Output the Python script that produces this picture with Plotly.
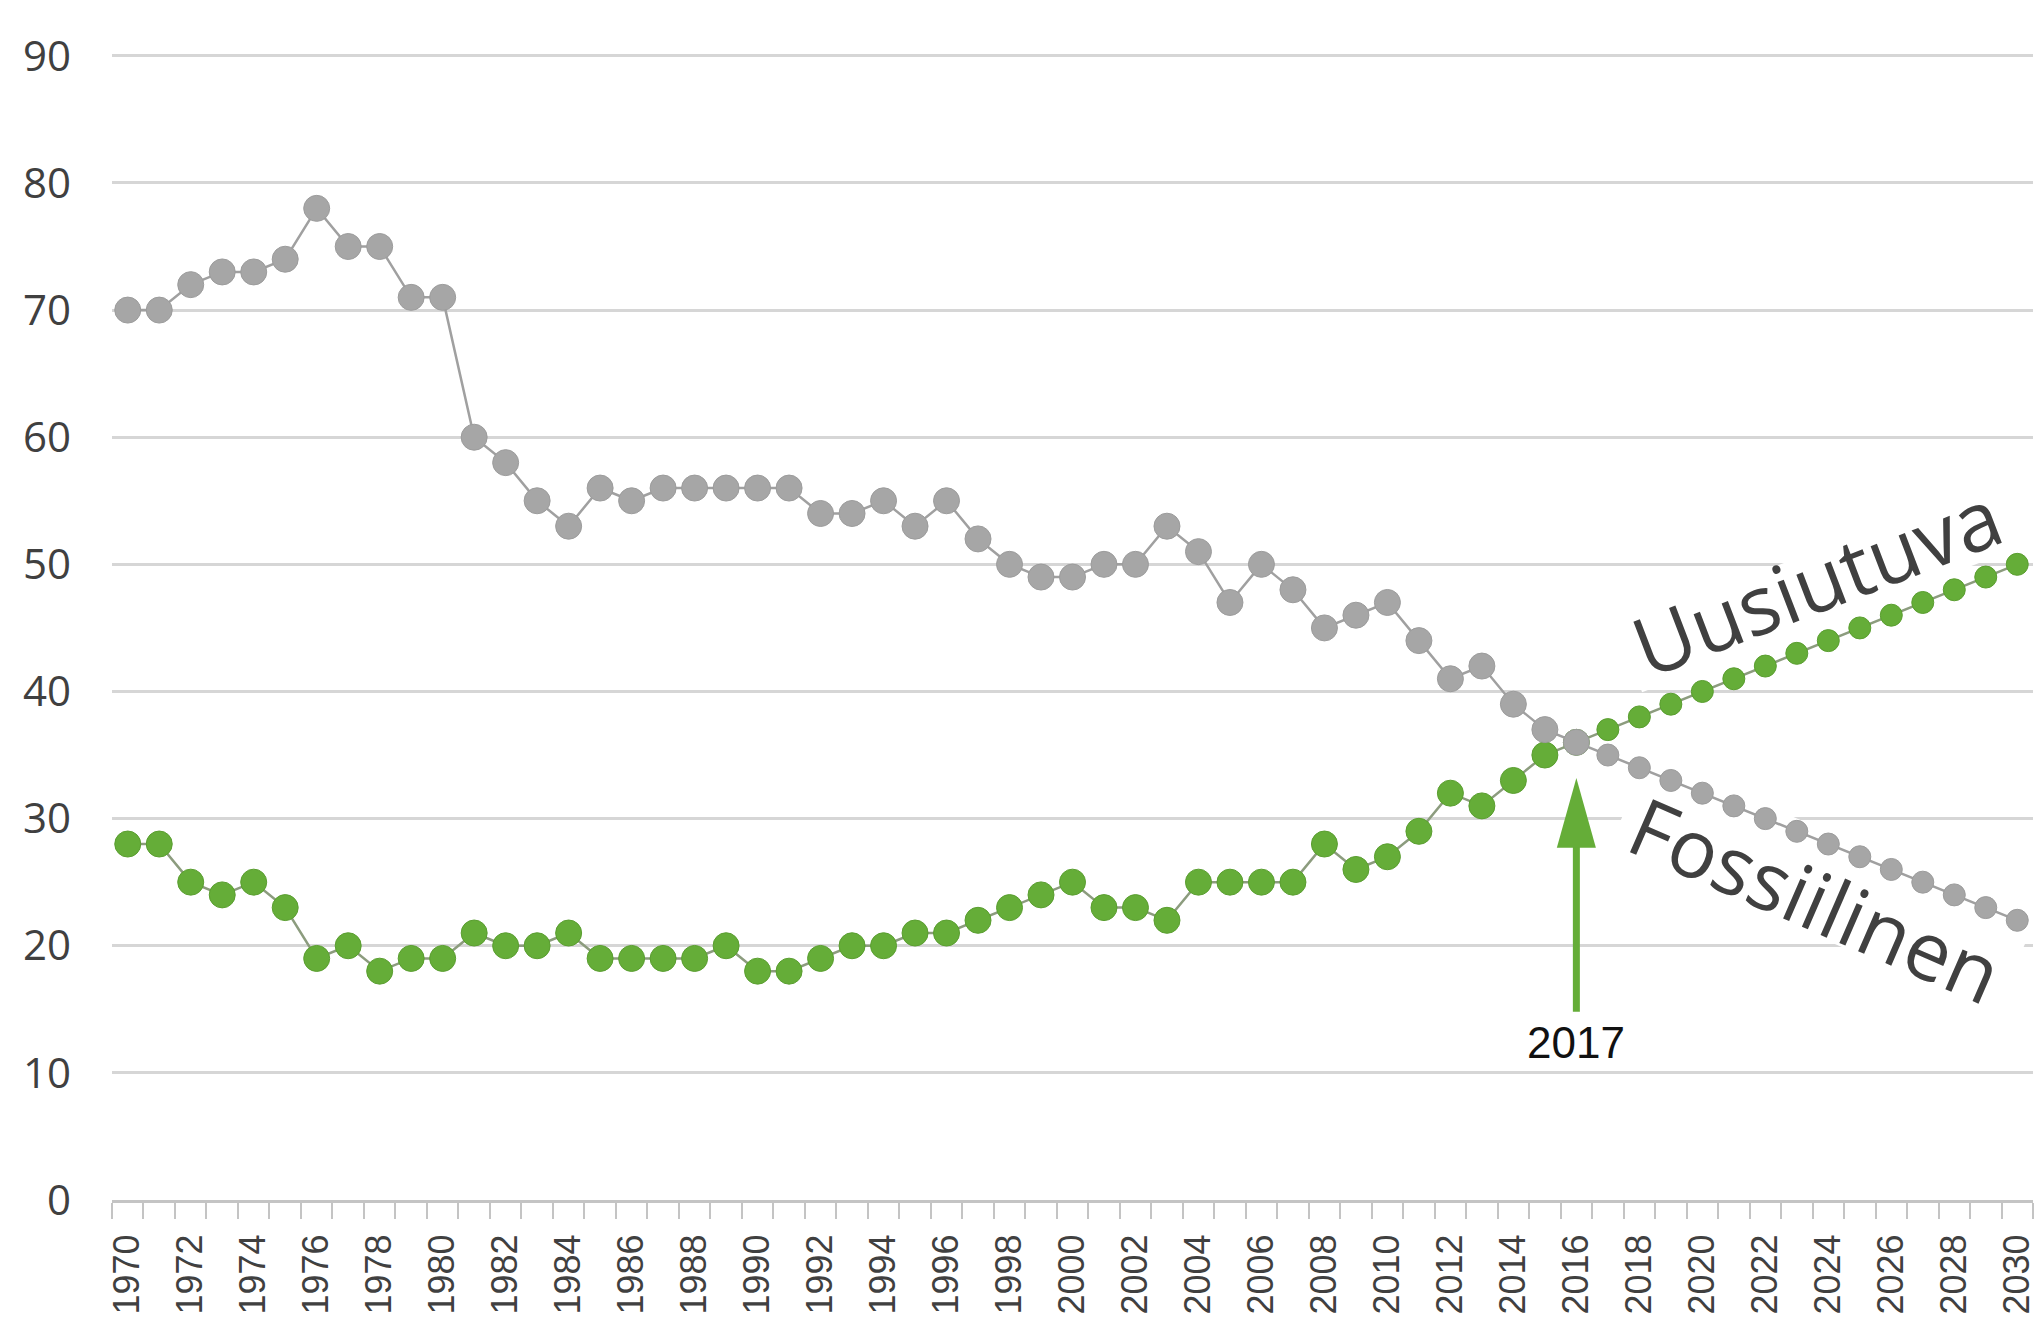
import math
import plotly.graph_objects as go

# ---------------- data ----------------
years = list(range(1970, 2031))
fossiilinen = [70, 70, 72, 73, 73, 74, 78, 75, 75, 71, 71,
               60, 58, 55, 53, 56, 55, 56, 56, 56, 56,
               56, 54, 54, 55, 53, 55, 52, 50, 49, 49,
               50, 50, 53, 51, 47, 50, 48, 45, 46, 47,
               44, 41, 42, 39, 37, 36, 35, 34, 33, 32,
               31, 30, 29, 28, 27, 26, 25, 24, 23, 22]
uusiutuva = [28, 28, 25, 24, 25, 23, 19, 20, 18, 19, 19,
             21, 20, 20, 21, 19, 19, 19, 19, 20, 18,
             18, 19, 20, 20, 21, 21, 22, 23, 24, 25,
             23, 23, 22, 25, 25, 25, 25, 28, 26, 27,
             29, 32, 31, 33, 35, 36, 37, 38, 39, 40,
             41, 42, 43, 44, 45, 46, 47, 48, 49, 50]
x_tick_years = list(range(1970, 2031, 2))
y_ticks = [0, 10, 20, 30, 40, 50, 60, 70, 80, 90]
projection_start = 2017

label_uusi = "Uusiutuva"
label_foss = "Fossiilinen"
arrow_label = "2017"
arrow_year = 2016
arrow_tip = 33.2
arrow_head_base = 27.7
arrow_tail = 14.8
arrow_label_y = 12.4

# ---------------- style ----------------
W, H = 2036, 1322
GREEN = "#65ad38"
GREEN_EDGE = "#5a9e30"
GREY = "#a6a6a6"
GREY_EDGE = "#9c9c9c"
TEXT = "#404040"
GRID = "#d6d6d6"


def sizes(ys):
    return [22 if y >= projection_start else 26 for y in ys]


fig = go.Figure()
fig.add_trace(go.Scatter(
    x=years, y=uusiutuva, mode="lines+markers", name=label_uusi,
    line=dict(color="#8c9c7e", width=2.5),
    marker=dict(color=GREEN, size=sizes(years), opacity=1,
                line=dict(color=GREEN_EDGE, width=1)),
    hoverinfo="x+y", showlegend=False,
))
fig.add_trace(go.Scatter(
    x=years, y=fossiilinen, mode="lines+markers", name=label_foss,
    line=dict(color="#a0a0a0", width=2.5),
    marker=dict(color=GREY, size=sizes(years), opacity=1,
                line=dict(color=GREY_EDGE, width=1)),
    hoverinfo="x+y", showlegend=False,
))


def rotated_box_path(length, height, angle_deg, shift_up):
    a = math.radians(angle_deg)
    ca, sa = math.cos(a), math.sin(a)
    corners = [(-length / 2, -height / 2 + shift_up), (length / 2, -height / 2 + shift_up),
               (length / 2, height / 2 + shift_up), (-length / 2, height / 2 + shift_up)]
    pts = [(u * ca - v * sa, u * sa + v * ca) for u, v in corners]
    return "M " + " L ".join(f"{px:.1f},{py:.1f}" for px, py in pts) + " Z"


# text positions (data coords) and angles
uusi_pos = (2023.6, 48.8, -21)
foss_pos = (2023.6, 23.7, 23.5)

shapes = [
    dict(type="path", xref="x", yref="y", xsizemode="pixel", ysizemode="pixel",
         xanchor=uusi_pos[0], yanchor=uusi_pos[1],
         path=rotated_box_path(405, 70, -uusi_pos[2], -8),
         fillcolor="white", line=dict(width=0), layer="between"),
    dict(type="path", xref="x", yref="y", xsizemode="pixel", ysizemode="pixel",
         xanchor=foss_pos[0], yanchor=foss_pos[1],
         path=rotated_box_path(420, 100, -foss_pos[2], 16),
         fillcolor="white", line=dict(width=0), layer="between"),
    # arrow shaft
    dict(type="line", xref="x", yref="y", x0=arrow_year, x1=arrow_year,
         y0=arrow_tail, y1=arrow_head_base + 0.3, line=dict(color=GREEN, width=7), layer="above"),
    # arrow head
    dict(type="path", xref="x", yref="y",
         path=f"M {arrow_year - 0.62},{arrow_head_base} L {arrow_year},{arrow_tip} "
              f"L {arrow_year + 0.62},{arrow_head_base} Z",
         fillcolor=GREEN, line=dict(width=0), layer="above"),
]

annotations = [
    dict(x=uusi_pos[0], y=uusi_pos[1], xref="x", yref="y", text=label_uusi, showarrow=False,
         textangle=uusi_pos[2], font=dict(family="Open Sans", size=82, color=TEXT),
         xanchor="center", yanchor="middle"),
    dict(x=foss_pos[0], y=foss_pos[1], xref="x", yref="y", text=label_foss, showarrow=False,
         textangle=foss_pos[2], font=dict(family="Open Sans", size=81, color=TEXT),
         xanchor="center", yanchor="middle"),
    dict(x=arrow_year, y=arrow_label_y, xref="x", yref="y", text=arrow_label, showarrow=False,
         font=dict(family="Liberation Sans, Arial", size=44, color="#111111"),
         xanchor="center", yanchor="middle"),
]

fig.update_layout(
    width=W, height=H, autosize=False,
    margin=dict(l=112, r=3, t=52, b=122, pad=0),
    paper_bgcolor="white", plot_bgcolor="white",
    shapes=shapes, annotations=annotations,
    showlegend=False,
)
fig.update_xaxes(
    range=[1969.5, 2030.5], tickmode="array", tickvals=x_tick_years,
    ticktext=[str(v) for v in x_tick_years], tickangle=-90,
    ticks="outside", ticklen=16, tickcolor="rgba(0,0,0,0)", ticklabelstandoff=1,
    ticklabeloverflow="allow", automargin=False,
    tickfont=dict(family="Liberation Sans, Arial", size=36, color=TEXT),
    showgrid=False, zeroline=False,
    showline=True, linecolor="#c4c4c4", linewidth=3,
    minor=dict(tick0=1969.5, dtick=1, ticks="outside", ticklen=16,
               tickcolor="#c4c4c4", tickwidth=2, showgrid=False),
)
fig.update_yaxes(
    range=[0, 90.3], tickmode="array", tickvals=y_ticks,
    ticks="", ticklabelstandoff=40, automargin=False,
    tickfont=dict(family="Open Sans", size=42, color=TEXT),
    showgrid=True, gridcolor=GRID, gridwidth=2.5,
    zeroline=False, showline=False,
)

fig.write_html("out.html", config={"displayModeBar": False},
               post_script="document.body.style.margin='0';")
